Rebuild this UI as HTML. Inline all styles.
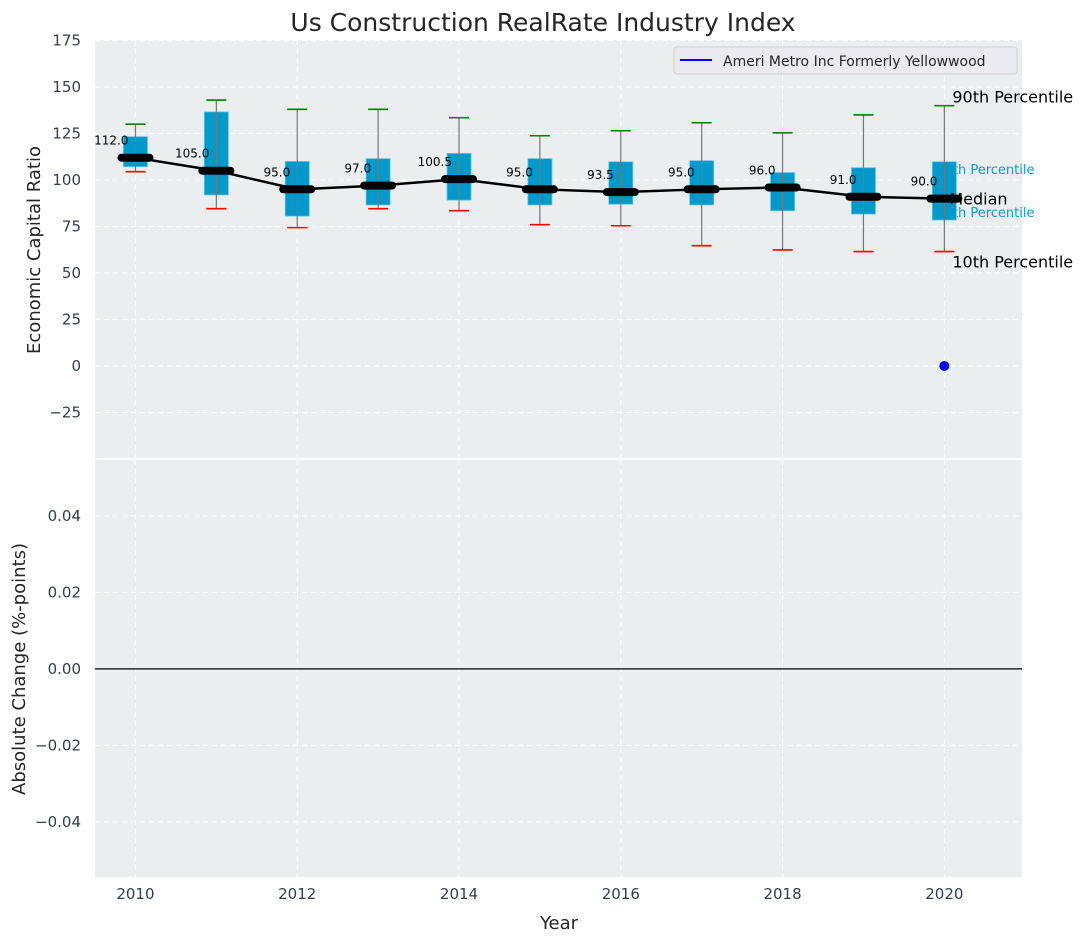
<!DOCTYPE html>
<html><head><meta charset="utf-8"><style>
body{margin:0;background:#fff;}
svg{display:block;font-family:"DejaVu Sans","Liberation Sans",sans-serif;}
</style></head><body>
<svg id="chart" width="1087" height="942" xmlns="http://www.w3.org/2000/svg"></svg>
<script>
const years=[2010,2011,2012,2013,2014,2015,2016,2017,2018,2019,2020];
const medians=[112.0,105.0,95.0,97.0,100.5,95.0,93.5,95.0,96.0,91.0,90.0];
const q1=[107.2,92,80.6,86.6,89.2,86.6,87,86.6,83.5,81.7,78.5];
const q3=[123.3,136.6,110,111.5,114.3,111.5,109.8,110.4,104,106.6,109.8];
const p10=[104.5,84.6,74.4,84.6,83.5,76,75.4,64.7,62.4,61.5,61.5];
const p90=[130,143,138,138,133.5,123.8,126.5,130.8,125.4,135,140];
const companyYears=[2020];
const companyValues=[0];
const yTicksTop=[-25,0,25,50,75,100,125,150,175];
const yTicksBot=[-0.04,-0.02,0.00,0.02,0.04];
const xTicks=[2010,2012,2014,2016,2018,2020];

const svg=document.getElementById('chart');
const NS='http://www.w3.org/2000/svg';
function el(tag,attrs,parent){const e=document.createElementNS(NS,tag);for(const k in attrs)e.setAttribute(k,attrs[k]);(parent||svg).appendChild(e);return e;}
const X0=95,X1=1022,T0=40,T1=458,B0=460,B1=877;
const xs=v=>X0+(v-2009.5)/(2020.96-2009.5)*(X1-X0);
const yt=v=>T1-(v+49.5)/(175.3+49.5)*(T1-T0);
const yb=v=>B1-(v+0.0544)/(0.1090)*(B1-B0);

let r=el('rect',{x:X0,y:T0,width:X1-X0,height:T1-T0,fill:'#eaeeef'});

r=el('rect',{x:X0,y:B0,width:X1-X0,height:B1-B0,fill:'#eaeeef'});


xTicks.forEach(v=>{
  [[T0,T1],[B0,B1]].forEach(p=>{const g=el('line',{x1:xs(v),x2:xs(v),y1:p[0],y2:p[1],stroke:'#fff','stroke-dasharray':'5,4','stroke-width':1});
  });
  const t=el('text',{x:xs(v),y:B1+22,'text-anchor':'middle','font-size':15,fill:'#2f3e50'});t.textContent=v;
  
});
yTicksTop.forEach(v=>{
  const g=el('line',{x1:X0,x2:X1,y1:yt(v),y2:yt(v),stroke:'#fff','stroke-dasharray':'5,4','stroke-width':1});
  
  const t=el('text',{x:81,y:yt(v)+5,'text-anchor':'end','font-size':15,fill:'#2f3e50'});t.textContent=(v<0?'\u2212'+(-v):v);
  
});
yTicksBot.forEach(v=>{
  const g=el('line',{x1:X0,x2:X1,y1:yb(v),y2:yb(v),stroke:'#fff','stroke-dasharray':'5,4','stroke-width':1});
  
  const s=v.toFixed(2);
  const t=el('text',{x:81,y:yb(v)+5,'text-anchor':'end','font-size':15,fill:'#2f3e50'});t.textContent=(v<0?'\u2212'+s.slice(1):s);
  
});
let zl=el('line',{x1:X0,x2:X1,y1:yb(0),y2:yb(0),stroke:'#000','stroke-width':1.2});


const defs=el('defs',{});const cp=el('clipPath',{id:'ct'},defs);el('rect',{x:X0,y:T0,width:X1-X0+120,height:T1-T0},cp);
const gTop=el('g',{'clip-path':'url(#ct)'});


const li=years.length-1, lx=xs(years[li]);
let t=el('text',{x:lx-8,y:yt(q3[li])+12,'font-size':13,fill:'#0a9fd0'},gTop);t.textContent='75th Percentile';

t=el('text',{x:lx-8,y:yt(q1[li])-3,'font-size':13,fill:'#0a9fd0'},gTop);t.textContent='25th Percentile';


const bw=12;
years.forEach((y,i)=>{
  const cx=xs(y);
  const b=el('rect',{x:cx-bw,y:yt(q3[i]),width:bw*2,height:yt(q1[i])-yt(q3[i]),fill:'#0099cc',stroke:'#5fc3e6','stroke-width':0.8},gTop);
  
  const w=el('line',{x1:cx,x2:cx,y1:yt(p90[i]),y2:yt(p10[i]),stroke:'#777','stroke-width':1.2},gTop);
  
  const h=el('line',{x1:cx-10,x2:cx+10,y1:yt(p90[i]),y2:yt(p90[i]),stroke:'#008000','stroke-width':1.6},gTop);
  
  const l=el('line',{x1:cx-10,x2:cx+10,y1:yt(p10[i]),y2:yt(p10[i]),stroke:'#ff0000','stroke-width':1.6},gTop);
  
});
const pl=el('polyline',{points:years.map((y,i)=>xs(y)+','+yt(medians[i])).join(' '),fill:'none',stroke:'#000','stroke-width':2.5},gTop);

years.forEach((y,i)=>{
  const cx=xs(y);
  const m=el('line',{x1:cx-14,x2:cx+14,y1:yt(medians[i]),y2:yt(medians[i]),stroke:'#000','stroke-width':8,'stroke-linecap':'round'},gTop);
  
  const tx=el('text',{x:cx-7,y:yt(medians[i])-13,'text-anchor':'end','font-size':12,fill:'#000'},gTop);tx.textContent=medians[i].toFixed(1);
  
});
companyYears.forEach((y,i)=>{
  const c=el('circle',{cx:xs(y),cy:yt(companyValues[i]),r:5,fill:'#0000ff'},gTop);
  
});
t=el('text',{x:lx+8,y:yt(p90[li])-3,'font-size':16,fill:'#000'});t.textContent='90th Percentile';

t=el('text',{x:lx+5,y:yt(medians[li])+6,'font-size':16,fill:'#000'});t.textContent='Median';

t=el('text',{x:lx+8,y:yt(p10[li])+16,'font-size':16,fill:'#000'});t.textContent='10th Percentile';


const lg=el('g',{});
el('rect',{x:674,y:47,width:343,height:27,rx:3,fill:'#eaeaf0',stroke:'#d0d0d0'},lg);
el('line',{x1:680,x2:712,y1:60,y2:60,stroke:'#0000ff','stroke-width':2},lg);
t=el('text',{x:723,y:66,'font-size':14,fill:'#262626'},lg);t.textContent='Ameri Metro Inc Formerly Yellowwood';


t=el('text',{x:543,y:31,'text-anchor':'middle','font-size':25,fill:'#262626'});t.textContent='Us Construction RealRate Industry Index';

t=el('text',{x:0,y:0,'text-anchor':'middle','font-size':18,fill:'#262626',transform:'translate(40,250) rotate(-90)'});t.textContent='Economic Capital Ratio';

t=el('text',{x:0,y:0,'text-anchor':'middle','font-size':18,fill:'#262626',transform:'translate(25,669) rotate(-90)'});t.textContent='Absolute Change (%-points)';

t=el('text',{x:559,y:929,'text-anchor':'middle','font-size':18,fill:'#262626'});t.textContent='Year';

</script>
</body></html>
